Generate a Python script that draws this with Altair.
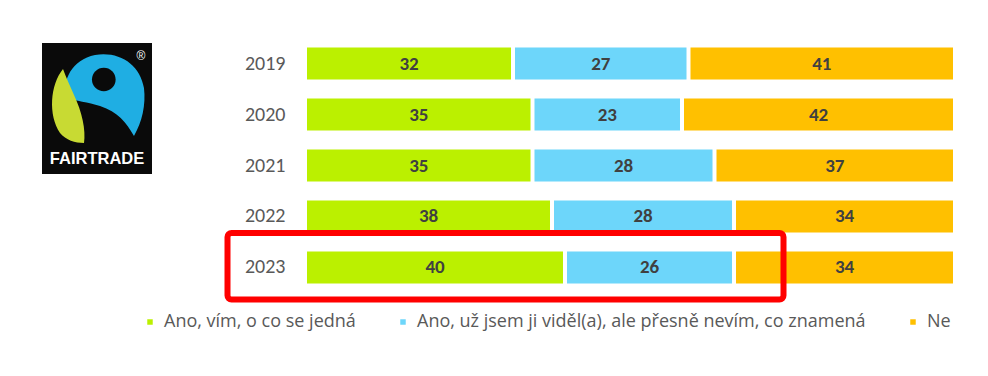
import altair as alt
import pandas as pd

# ---- data ----
years = ["2019", "2020", "2021", "2022", "2023"]
ano_vim = [32, 35, 35, 38, 40]
ano_videl = [27, 23, 28, 28, 26]
ne = [41, 42, 37, 34, 34]
categories = [
    "Ano, vím, o co se jedná",
    "Ano, už jsem ji viděl(a), ale přesně nevím, co znamená",
    "Ne",
]
colors = ["#bbf000", "#6dd6fa", "#ffc000"]

rows = []
for i, y in enumerate(years):
    for k, (cat, series) in enumerate(zip(categories, [ano_vim, ano_videl, ne])):
        rows.append({"year": y, "cat": cat, "value": series[i], "order": k})
df = pd.DataFrame(rows)

FONT = "Carlito, Lato, sans-serif"
LFONT = "Open Sans"
OX, OY = 305, 38  # page position of the plot origin (for decorations)

one = alt.Data(values=[{"a": 1}])

yscale = alt.Scale(domain=years, paddingInner=0.3725, paddingOuter=0.1863)
xscale = alt.Scale(domain=[0, 100], nice=False, zero=True)

base = (
    alt.Chart(df)
    .transform_window(
        end="sum(value)", frame=[None, 0], sort=[alt.SortField("order")], groupby=["year"]
    )
    .transform_calculate(start="datum.end - datum.value", mid="datum.end - datum.value / 2")
)

bars = base.mark_bar(xOffset=2, x2Offset=-2).encode(
    x=alt.X("start:Q", scale=xscale, axis=None),
    x2="end:Q",
    y=alt.Y(
        "year:N",
        sort=years,
        scale=yscale,
        axis=alt.Axis(
            title=None, domain=False, ticks=False, labelFontSize=20,
            labelColor="#595959", labelFont=FONT, labelPadding=20,
        ),
    ),
    color=alt.Color(
        "cat:N",
        sort=categories,
        scale=alt.Scale(domain=categories, range=colors),
        legend=alt.Legend(
            orient="none", legendX=-164, legendY=275, direction="horizontal",
            title=None, symbolType="square", symbolSize=30, symbolStrokeWidth=0,
            symbolOpacity=1, labelFontSize=18, labelColor="#595959", labelFont=LFONT,
            columnPadding=38, labelOffset=5, labelLimit=0,
        ),
    ),
)

labels = base.mark_text(
    fontWeight="bold", fontSize=19, color="#404040", font=FONT, baseline="middle"
).encode(
    x=alt.X("mid:Q", scale=xscale, axis=None),
    y=alt.Y("year:N", sort=years, scale=yscale),
    text="value:Q",
)

# ---- highlight box around 2023 ----
redbox = alt.Chart(one).mark_rect(
    filled=False, stroke="#ff0000", strokeWidth=6, cornerRadius=4
).encode(
    x=alt.value(227.5 - OX), x2=alt.value(783.5 - OX),
    y=alt.value(233 - OY), y2=alt.value(299.5 - OY),
)

# ---- Fairtrade logo (decoration) ----
logo_bg = alt.Chart(one).mark_rect(color="#0a0a0a").encode(
    x=alt.value(42 - OX), x2=alt.value(152 - OX),
    y=alt.value(43 - OY), y2=alt.value(174 - OY),
)
blue_path = (
    "M -0.905 0.071 C -1.0 -0.357 -0.762 -0.833 -0.214 -0.952 "
    "C 0.381 -1.048 0.857 -0.714 0.952 -0.167 "
    "C 1.0 0.238 0.905 0.643 0.714 0.976 "
    "C 0.524 0.643 0.333 0.405 -0.095 0.262 "
    "C -0.381 0.167 -0.667 0.143 -0.905 0.071 Z"
)
logo_blue = alt.Chart(one).mark_point(
    shape=blue_path, filled=True, size=7056, color="#1faee3", opacity=1, strokeWidth=0
).encode(x=alt.value(104 - OX), y=alt.value(95 - OY))
logo_hole = alt.Chart(one).mark_point(
    shape="circle", filled=True, size=560, color="#0a0a0a", opacity=1, strokeWidth=0
).encode(x=alt.value(103.8 - OX), y=alt.value(79.5 - OY))
green_path = (
    "M -0.125 -0.925 C -0.45 -0.525 -0.5 0.225 -0.2 0.675 "
    "C -0.05 0.85 0.175 0.925 0.4 0.925 "
    "C 0.45 0.6 0.35 0.15 0.15 -0.275 "
    "C 0.05 -0.5 -0.05 -0.725 -0.125 -0.925 Z"
)
logo_green = alt.Chart(one).mark_point(
    shape=green_path, filled=True, size=6400, color="#c8da33", opacity=1, strokeWidth=0
).encode(x=alt.value(68 - OX), y=alt.value(106 - OY))
logo_text = alt.Chart(one).mark_text(
    text="FAIRTRADE", font="Liberation Sans", fontWeight="bold", fontSize=16.5,
    color="white", align="center", baseline="alphabetic",
).encode(x=alt.value(97 - OX), y=alt.value(164 - OY))
logo_reg = alt.Chart(one).mark_text(
    text="®", font="Liberation Sans", fontSize=12, color="white",
    align="center", baseline="middle",
).encode(x=alt.value(141 - OX), y=alt.value(56 - OY))

chart = (
    alt.layer(
        logo_bg, logo_blue, logo_hole, logo_green, logo_text, logo_reg,
        bars, labels, redbox,
    )
    .properties(
        width=650, height=255,
        padding={"left": 297, "top": 30, "right": 20, "bottom": 60},
        autosize=alt.AutoSizeParams(type="none"),
        background="white",
    )
    .configure_view(stroke=None)
)

chart.save("out.html", embed_options={"renderer": "svg", "actions": False})
